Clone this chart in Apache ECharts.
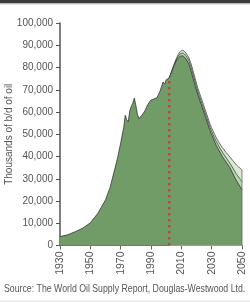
<!DOCTYPE html>
<html><head><meta charset="utf-8">
<script src="https://cdn.jsdelivr.net/npm/echarts@6/dist/echarts.min.js"></script>
<style>html,body{margin:0;padding:0;background:#fff}#c{width:250px;height:303px}</style>
</head><body><div id="c"></div>
<script>
const histYears = [1930,1935,1940,1945,1950,1955,1960,1963,1966,1968,1970,1972,1973,1974,1975,1976,1977,1978,1979,1980,1981,1982,1983,1984,1985,1986,1987,1988,1989,1990,1991,1992,1993,1994,1995,1996,1997,1998,1999,2000,2001,2002];
const histValues = [4000,4800,6200,7800,10200,14500,20500,26000,34000,39500,46000,53000,58500,56500,55500,60500,62500,64000,66200,63000,59000,57000,57200,58500,59500,60500,61200,63500,64500,65400,65300,65800,65700,66500,68000,69500,71500,73500,72500,74500,74000,75300];
const fcYears = [2002,2003,2005,2007,2009,2011,2013,2015,2017,2019,2021,2023,2026,2029,2033,2037,2042,2046,2050];
const lowValues  = [75300,77000,80500,83500,85000,85300,84000,81500,77000,72000,67500,63500,57500,51500,45000,40000,35000,29500,25000];
const midValues  = [75300,77000,80800,84000,86000,86500,85300,83000,78800,73800,69000,65000,59000,53000,46800,42000,37000,32500,28700];
const highValues = [75300,77000,81000,84500,87000,87700,86500,84300,80300,75300,70500,66500,60500,54500,48500,44000,39800,36500,34000];
const reportYear = 2002;
const reportValue = 75300;
const xTicks = [1930,1950,1970,1990,2010,2030,2050];

const font = "'Liberation Sans',Arial,sans-serif";
const pair = (xs, ys) => xs.map((x, i) => [x, ys[i]]);
const histLow = pair(histYears, histValues).concat(pair(fcYears.slice(1), lowValues.slice(1)));
const endYear = fcYears[fcYears.length - 1];
const endHigh = highValues[highValues.length - 1];

const chart = echarts.init(document.getElementById('c'), null, {renderer: 'canvas'});
chart.setOption({
  animation: false,
  grid: {left: 60, right: 8, top: 23, bottom: 57.5, containLabel: false, outerBoundsMode: 'none'},
  xAxis: {
    type: 'value', min: 1930, max: 2050, interval: 20,
    axisLine: {lineStyle: {color: '#666', width: 1.2}},
    axisTick: {length: 4, lineStyle: {color: '#666'}},
    axisLabel: {rotate: 90, color: '#555', fontSize: 10.5, fontFamily: font, margin: 6,
      formatter: v => xTicks.includes(v) ? String(v) : ''},
    splitLine: {show: false}
  },
  yAxis: {
    type: 'value', min: 0, max: 100000, interval: 10000,
    name: 'Thousands of b/d of oil', nameLocation: 'middle', nameGap: 46, nameMoveOverlap: false,
    nameTextStyle: {color: '#555', fontSize: 10, fontFamily: font},
    axisLine: {show: true, lineStyle: {color: '#555', width: 1.5}},
    axisTick: {show: true, length: 4, lineStyle: {color: '#555'}},
    axisLabel: {color: '#555', fontSize: 10, fontFamily: font, margin: 7,
      formatter: v => v.toLocaleString('en-US')},
    splitLine: {show: false}
  },
  series: [
    {type: 'line', data: pair(fcYears, highValues), symbol: 'none', smooth: 0.3,
     lineStyle: {color: '#444', width: 0.8}, areaStyle: {color: '#d8ead2', opacity: 1}, z: 1},
    {type: 'line', data: pair(fcYears, midValues), symbol: 'none', smooth: 0.3,
     lineStyle: {color: '#444', width: 0.8}, areaStyle: {color: '#b6d5ae', opacity: 1}, z: 2},
    {type: 'line', data: histLow, symbol: 'none',
     lineStyle: {color: '#333', width: 0.8}, areaStyle: {color: '#729c67', opacity: 1}, z: 3},
    {type: 'line', data: [[endYear, 0], [endYear, endHigh]], symbol: 'none',
     lineStyle: {color: '#666', width: 0.8}, z: 4},
    {type: 'line', data: [[reportYear, 0], [reportYear, reportValue]], symbol: 'none',
     lineStyle: {color: '#d0403a', width: 2.5, type: [2.5, 3.5]}, z: 5}
  ],
  graphic: [
    {type: 'rect', shape: {x: 0, y: 0, width: 250, height: 3.5}, style: {fill: '#3a3a3a'}},
    {type: 'rect', shape: {x: 0, y: 3.5, width: 250, height: 1.2}, style: {fill: '#d8d8d8'}},
    {type: 'rect', shape: {x: 0, y: 300.5, width: 250, height: 1}, style: {fill: '#e0e0e0'}},
    {type: 'text', x: 4, y: 283, scaleX: 0.795, style: {text: 'Source: The World Oil Supply Report, Douglas-Westwood Ltd.', fill: '#555', fontSize: 11, fontFamily: font}}
  ]
});
</script></body></html>
